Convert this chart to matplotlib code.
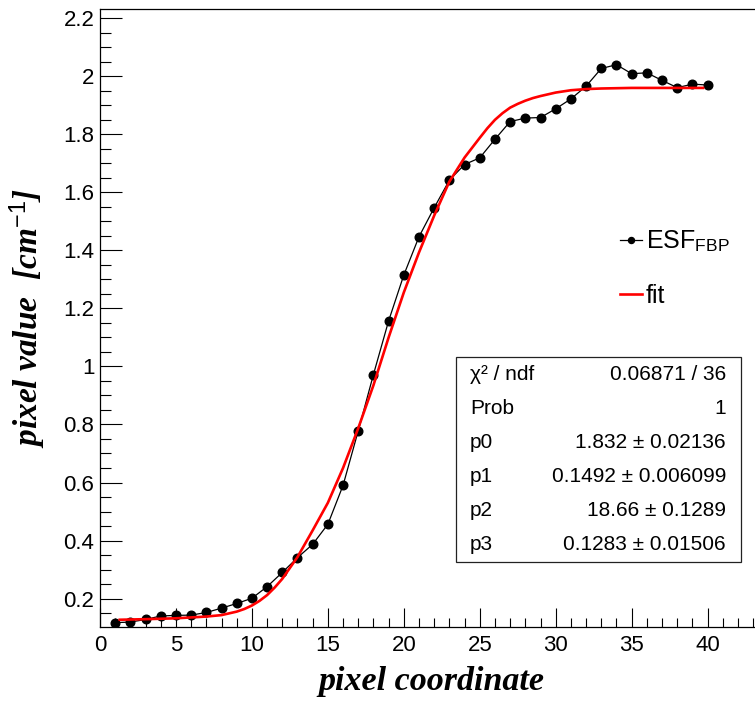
import matplotlib
matplotlib.use("Agg")
import matplotlib.pyplot as plt
from matplotlib.patches import Rectangle
from matplotlib.ticker import MultipleLocator, FuncFormatter

plt.rcParams['font.family'] = ['Liberation Sans', 'DejaVu Sans']
plt.rcParams['mathtext.fontset'] = 'custom'
plt.rcParams['mathtext.rm'] = 'Liberation Sans'
plt.rcParams['mathtext.it'] = 'Liberation Serif:italic:bold'

# measured ESF samples (pixel index -> value)
pix = list(range(1, 41))
esf = [0.117, 0.119, 0.128, 0.140, 0.142, 0.143, 0.152, 0.167, 0.183, 0.201,
       0.241, 0.290, 0.341, 0.387, 0.456, 0.590, 0.778, 0.972, 1.157, 1.315,
       1.447, 1.547, 1.642, 1.696, 1.719, 1.783, 1.844, 1.856, 1.858, 1.888,
       1.922, 1.966, 2.027, 2.040, 2.009, 2.012, 1.986, 1.961, 1.973, 1.970]

# fit curve
fit_x = [1.3, 3, 5, 6, 7, 8, 9, 9.5, 10, 10.5, 11, 11.5, 12, 13, 14, 15, 16,
         17, 18, 19, 20, 21, 22, 23, 24, 25, 25.5, 26, 26.5, 27, 27.5, 28,
         28.5, 29, 30, 31, 32, 33, 35, 37, 39.7]
fit_y = [0.127, 0.129, 0.132, 0.135, 0.138, 0.143, 0.155, 0.164, 0.176, 0.192,
         0.212, 0.238, 0.268, 0.343, 0.435, 0.530, 0.650, 0.787, 0.935, 1.100,
         1.255, 1.393, 1.520, 1.637, 1.720, 1.788, 1.821, 1.850, 1.873, 1.892,
         1.905, 1.916, 1.925, 1.932, 1.944, 1.952, 1.956, 1.958, 1.960, 1.960,
         1.960]

stat_names = ["\u03c7\u00b2 / ndf", "Prob", "p0", "p1", "p2", "p3"]
stat_values = ["0.06871 / 36", "1", "1.832 \u00b1 0.02136",
               "0.1492 \u00b1 0.006099", "18.66 \u00b1 0.1289",
               "0.1283 \u00b1 0.01506"]

W, H = 755, 701
fig = plt.figure(figsize=(W / 100, H / 100), dpi=100)
ax = fig.add_axes([100 / W, 1 - 627 / H, 655 / W, 618 / H])


def fx(px):
    return px / W


def fy(py):
    return 1 - py / H


ax.plot(pix, esf, color='black', lw=0.9, marker='o', ms=6.2,
        label='ESF$_{\\mathrm{FBP}}$')
ax.plot(fit_x, fit_y, color='#ff0000', lw=1.9, label='fit')

ax.set_xlim(0, 43.12)
ax.set_ylim(0.102, 2.232)
ax.spines['right'].set_visible(False)
for s in ax.spines.values():
    s.set_linewidth(0.9)

ax.xaxis.set_major_locator(MultipleLocator(5))
ax.xaxis.set_minor_locator(MultipleLocator(1))
ax.yaxis.set_major_locator(MultipleLocator(0.2))
ax.yaxis.set_minor_locator(MultipleLocator(0.05))
ax.yaxis.set_major_formatter(FuncFormatter(lambda v, p: f"{v:g}"))
ax.tick_params(axis='both', which='both', direction='in', labelsize=16)
ax.tick_params(axis='x', which='major', length=13.5, width=0.8, pad=6)
ax.tick_params(axis='x', which='minor', length=6.5, width=0.8)
ax.tick_params(axis='y', which='major', length=15.5, width=0.8, pad=4)
ax.tick_params(axis='y', which='minor', length=7.7, width=0.8)

ax.set_xlabel('pixel coordinate', family='Liberation Serif', style='italic',
              weight='bold', fontsize=24.5)
ax.set_ylabel('pixel value  [cm$^{\\mathit{-1}}$]', family='Liberation Serif',
              style='italic', weight='bold', fontsize=24)
ax.xaxis.set_label_coords((431 - 100) / 655, -(666 - 627) / 618)
ax.yaxis.set_label_coords((48 - 100) / 655, 0.5)

leg = ax.legend(loc='upper left', bbox_to_anchor=(fx(607), fy(216)),
                bbox_transform=fig.transFigure, frameon=False, fontsize=18,
                handlelength=0.9, handletextpad=0.15, labelspacing=1.2,
                borderpad=0, markerscale=0.7, numpoints=1)

# fit statistics box
fig.add_artist(Rectangle((fx(456), fy(562)), (741 - 456) / W, (562 - 357) / H,
                         transform=fig.transFigure, fill=False,
                         edgecolor='#222222', lw=0.9))
for i, (n, v) in enumerate(zip(stat_names, stat_values)):
    yy = fy(375 + i * 33.9)
    fig.text(fx(470), yy, n, fontsize=15, va='center', ha='left')
    fig.text(fx(726), yy, v, fontsize=15, va='center', ha='right')

fig.savefig('out.png', dpi=100)
